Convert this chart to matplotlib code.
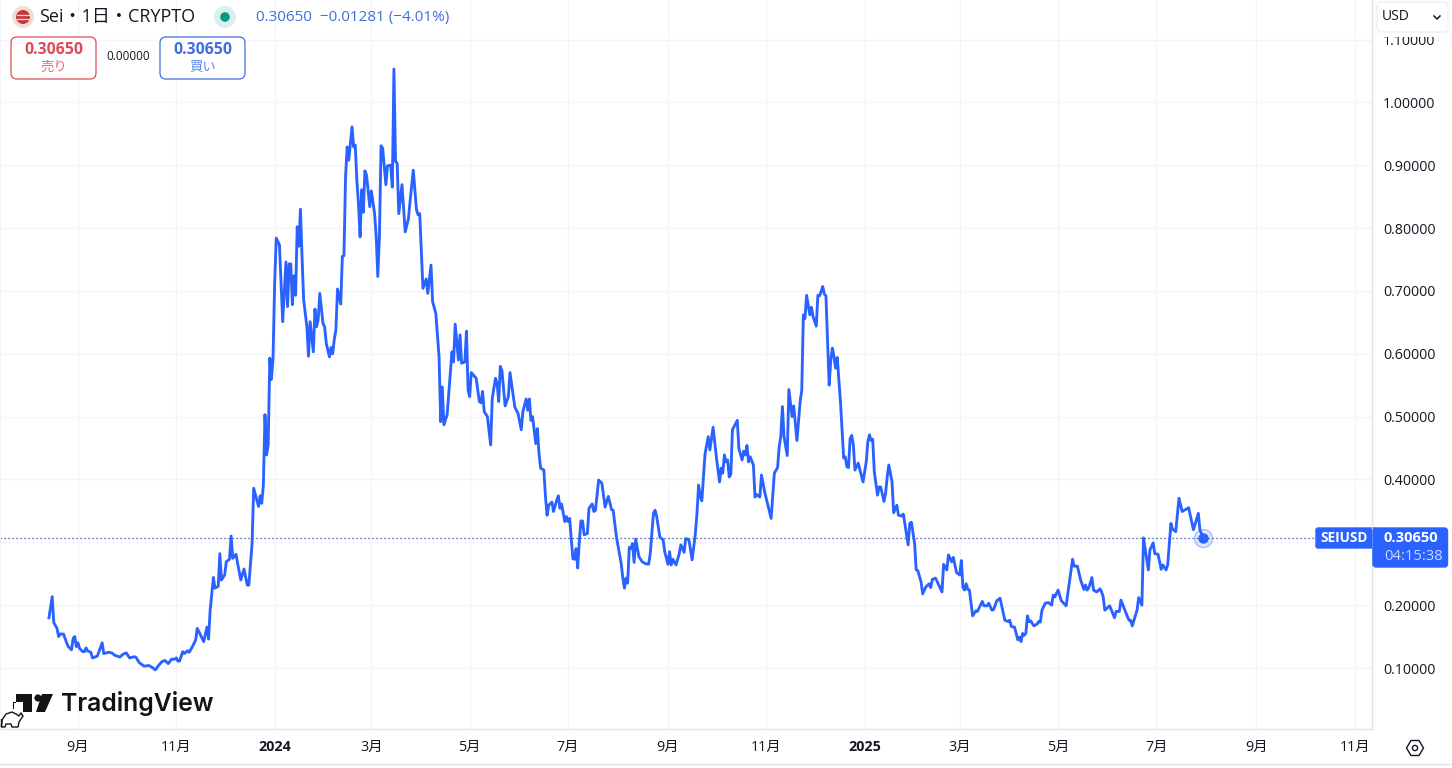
import numpy as np
import matplotlib
matplotlib.use("Agg")
import matplotlib.pyplot as plt
from matplotlib.patches import FancyBboxPatch, Circle, Polygon, Rectangle

plt.rcParams['font.family'] = ['Open Sans', 'Noto Sans CJK JP', 'DejaVu Sans']

start_date = np.datetime64('2023-09-01')
days = [-18,-16,-15,-13,-12,-11,-9,-7,-6,-4,-3,-2,-1,0,1,3,4,5,6,8,9,12,15,16,19,21,23,26,28,30,32,35,36,38,41,44,46,48,50,52,54,56,58,60,61,62,63,65,66,68,69,71,73,74,76,78,80,81,82,84,85,87,88,89,91,92,94,95,96,98,99,101,103,105,106,
        108,109,112,113,114,115,116,117,118,119,120,121,
        122,123,125,127,129,130,131,132,133,134,135,136,137,138,139,140,142,143,144,146,147,148,149,150,152,153,154,156,157,158,159,160,161,163,164,165,166,167,168,169,170,171,172,173,174,175,176,177,178,179,181,182,184,185,186,187,188,189,191,192,194,195,196,197,198,199,201,203,205,206,208,210,211,212,214,216,217,219,220,222,224,
        225,226,227,229,231,232,233,234,236,237,238,240,241,242,243,244,247,249,250,251,252,254,256,257,259,260,261,262,263,265,267,268,271,273,275,276,278,279,280,281,282,284,285,286,287,289,290,291,292,294,295,297,298,299,300,302,303,304,305,307,308,309,310,311,312,313,314,316,317,319,320,321,323,325,327,329,331,332,334,337,338,339,340,341,342,343,344,345,346,348,350,352,354,355,357,358,359,361,363,364,366,367,368,369,371,373,374,376,377,379,380,
        381,383,384,385,386,387,389,391,392,394,396,398,399,400,401,402,403,404,405,406,409,410,412,413,414,415,416,417,419,420,421,423,424,426,430,432,434,435,436,437,438,440,441,443,444,446,448,449,450,451,452,454,455,456,458,459,460,461,462,463,464,466,467,468,469,470,471,473,475,476,477,478,479,480,481,482,484,487,489,490,491,492,493,494,496,497,498,500,501,502,503,505,506,508,509,511,512,515,516,517,519,520,521,523,
        524,526,528,529,530,532,534,536,537,539,540,542,543,545,547,548,549,550,551,552,553,555,557,558,561,562,564,565,567,568,570,572,575,577,578,579,581,583,584,585,586,587,588,589,590,591,593,595,596,597,598,600,602,604,605,606,608,610,613,617,618,620,622,624,625,626,627,629,630,632,634,635,636,637,640,643,644,646,647,651,652,653,654,657,658,660,661,664,665,667,668,670,672,673,675,676,678,679,681,683,685,689,692,695,696,698]
prices = [.180,.2135,.172,.163,.150,.154,.154,.140,.134,.129,.147,.150,.134,.140,.131,.126,.126,.132,.127,.125,.116,.119,.140,.123,.125,.124,.120,.1175,.122,.124,.116,.118,.117,.1085,.103,.104,.101,.097,.104,.110,.112,.107,.114,.114,.116,.111,.111,.126,.123,.1275,.125,.134,.1445,.163,.1525,.142,.165,.146,.192,.244,.227,.230,.282,.240,.248,.269,.273,.310,.2745,.281,.267,.240,.2575,.232,.232,
          .298,.386,.357,.374,.362,.391,.503,.439,.455,.593,.559,.593,
          .712,.784,.773,.651,.746,.675,.743,.743,.678,.724,.693,.802,.771,.830,.754,.686,.643,.596,.651,.603,.671,.643,.654,.696,.648,.643,.617,.595,.610,.600,.623,.638,.703,.679,.755,.756,.882,.929,.908,.935,.961,.929,.932,.876,.839,.786,.861,.825,.891,.884,.834,.859,.823,.786,.723,.786,.931,.927,.869,.899,.900,.865,1.053,.906,.903,.823,.869,.794,.815,.842,.892,.829,.821,.823,.704,.719,.696,.741,.683,.664,.595,
          .492,.547,.487,.503,.571,.603,.587,.647,.590,.630,.585,.587,.636,.542,.532,.570,.561,.524,.522,.540,.508,.500,.455,.529,.561,.553,.524,.580,.573,.517,.532,.570,.515,.505,.479,.508,.528,.510,.528,.494,.500,.457,.481,.441,.418,.415,.373,.343,.359,.364,.349,.367,.374,.354,.361,.333,.341,.333,.338,.274,.273,.290,.259,.301,.334,.334,.312,.314,.354,.361,.349,.351,.399,.394,.356,.373,.352,.351,.309,.266,.243,.227,.243,.235,.292,.290,.298,.268,.305,.277,.269,.266,.265,.282,.346,.351,.341,.308,.304,.285,.265,.285,.264,.273,.264,.282,.296,.284,.306,.304,.288,
          .272,.314,.346,.391,.373,.366,.441,.468,.447,.483,.436,.396,.418,.410,.439,.428,.431,.404,.408,.479,.494,.449,.431,.445,.439,.454,.428,.436,.423,.372,.376,.372,.407,.380,.338,.410,.419,.452,.468,.516,.468,.438,.543,.500,.517,.462,.524,.542,.662,.656,.693,.662,.674,.659,.644,.693,.692,.699,.707,.695,.692,.550,.590,.609,.595,.577,.594,.524,.434,.436,.420,.419,.465,.470,.455,.415,.426,.396,.428,.460,.471,.462,.464,.412,.375,.388,.388,.365,.378,.404,.423,.396,.347,.359,.343,.342,.345,.296,.330,.332,.298,.256,.255,.237,
          .218,.229,.234,.228,.241,.243,.232,.221,.265,.256,.280,.269,.276,.252,.248,.271,.228,.224,.234,.225,.224,.183,.191,.190,.206,.199,.199,.203,.192,.193,.207,.211,.176,.174,.176,.166,.165,.145,.149,.142,.155,.152,.155,.183,.174,.175,.167,.170,.174,.173,.192,.203,.204,.200,.216,.213,.224,.207,.199,.273,.262,.262,.240,.225,.232,.224,.227,.244,.224,.221,.226,.221,.213,.192,.199,.180,.190,.190,.208,.182,.176,.176,.167,.192,.212,.200,.307,.256,.288,.299,.282,.281,.257,.264,.256,.264,.330,.321,.317,.370,.349,.355,.320,.346,.320,.3065]
y_ticks = [0.1,0.2,0.3,0.4,0.5,0.6,0.7,0.8,0.9,1.0,1.1]
month_ticks = ['2023-09-01','2023-11-01','2024-01-01','2024-03-01','2024-05-01','2024-07-01','2024-09-01','2024-11-01','2025-01-01','2025-03-01','2025-05-01','2025-07-01','2025-09-01','2025-11-01']
month_labels = ['9月','11月','2024','3月','5月','7月','9月','11月','2025','3月','5月','7月','9月','11月']
last_price = 0.3065

dates = start_date + np.array(days).astype('timedelta64[D]')
BLUE = '#2962ff'
GRID = '#f2f4f8'
AXIS = '#e0e3eb'
INK = '#131722'
W, H = 1452, 768
fig = plt.figure(figsize=(W/100, H/100), dpi=100, facecolor='white')
ax = fig.add_axes([0, (H-729)/H, 1372/W, 729/H])
ax.plot(dates, prices, color=BLUE, lw=2.05, solid_joinstyle='round', zorder=3)
px_day = 1.612
x0 = start_date - np.timedelta64(int(round(78/px_day*24)), 'h')
x1 = start_date + np.timedelta64(int(round((1372-78)/px_day*24)), 'h')
ax.set_xlim(x0, x1)
ax.set_ylim(0.1-61/628.5, 0.1+668/628.5)
ax.set_yticks(y_ticks)
# the 0.30000 label sits behind the last-price tag in the reference
ax.set_yticklabels(['' if abs(v-0.3) < 1e-9 else f'{v:.5f}' for v in y_ticks])
ax.yaxis.tick_right()
ax.set_xticks(np.array(month_ticks, dtype='datetime64[D]'))
ax.set_xticklabels(month_labels)
for lab, s in zip(ax.get_xticklabels(), month_labels):
    if s.isdigit():
        lab.set_fontweight('bold')
ax.tick_params(axis='both', length=0, labelsize=10.3, labelcolor=INK)
ax.tick_params(axis='y', pad=8)
ax.tick_params(axis='x', pad=8)
ax.grid(True, color=GRID, lw=0.9)
ax.set_axisbelow(True)
ax.spines['top'].set_visible(False)
ax.spines['left'].set_color(GRID)
for s in ['right','bottom']:
    ax.spines[s].set_color(AXIS)
    ax.spines[s].set_linewidth(1.0)
# last price line and marker
ax.plot([x0, x1], [last_price, last_price], color='#2a3f8f', lw=0.9, dashes=(1, 2.2), zorder=2)
ax.plot(dates[-1:], [last_price], 'o', ms=13, mfc=BLUE+'26', mec=BLUE+'70', mew=0.8, zorder=4)
ax.plot(dates[-1:], [last_price], 'o', ms=6.5, color=BLUE, zorder=5)

# pixel-space overlay
ov = fig.add_axes([0,0,1,1], zorder=10)
ov.set_xlim(0, W); ov.set_ylim(H, 0); ov.axis('off'); ov.patch.set_alpha(0)
def box(x0,y0,x1,y1,r,fc,ec,lw=1.0,z=5):
    ov.add_patch(FancyBboxPatch((x0+r,y0+r),x1-x0-2*r,y1-y0-2*r,boxstyle=f'round,pad={r},rounding_size={r}',fc=fc,ec=ec,lw=lw,zorder=z))
def txt(x,y,s,size,color=INK,ha='left',weight='normal',z=6,**k):
    ov.text(x,y,s,fontsize=size,color=color,ha=ha,va='center',fontweight=weight,zorder=z,**k)

ov.plot([0,W],[764,764],color=AXIS,lw=1.0)
# header
ov.add_patch(Circle((23,17),11,fc='#eedfd0',ec='none'))
ov.add_patch(Circle((23,17),7,fc='#c9363e',ec='none'))
ov.plot([17,29],[15,15],color='#eedfd0',lw=0.9)
ov.plot([17,29],[19,19],color='#eedfd0',lw=0.9)
txt(39,17,'Sei・1日・CRYPTO',13,color='#131722')
ov.add_patch(Circle((225,17),11,fc='#daf0ec',ec='none'))
ov.add_patch(Circle((225,17),4.8,fc='#089981',ec='none'))
txt(256,17,'0.30650  −0.01281 (−4.01%)',11,color='#3f6fdc')
RED='#e04a55'; BL2='#3f6fdc'
box(11,37,96,79,6,'white',RED,lw=0.9)
txt(53.5,50,'0.30650',11.4,color=RED,ha='center',weight='bold')
txt(53.5,67,'売り',9.6,color='#ea6a72',ha='center')
txt(128,57,'0.00000',8.4,ha='center')
box(160,37,245,79,6,'white',BL2,lw=0.9)
txt(202.5,50,'0.30650',11.4,color=BL2,ha='center',weight='bold')
txt(202.5,67,'買い',9.6,color='#5a86e8',ha='center')
# USD button, with the strip that clips the top of the 1.10000 label
ov.add_patch(Rectangle((1374,0),78,36.5,fc='white',ec='none',zorder=4.5))
box(1377,2,1448,32,5,'white','#edeff4',z=5)
txt(1382,17,'USD',10)
ov.plot([1434,1437,1440],[16,19,16],color=INK,lw=1.1,zorder=6)
# price labels
box(1316,528,1376,548,2,BLUE,BLUE,z=5)
ov.add_patch(Rectangle((1372,520),1.2,55,fc=AXIS,ec='none',zorder=5.5))
box(1373,528,1447.5,567,3,BLUE,BLUE,z=6)
txt(1344,538,'SEIUSD',9.8,color='white',ha='center',weight='bold',z=7)
txt(1384,538,'0.30650',10.6,color='white',weight='bold',z=7)
txt(1384,556,'04:15:38',10.6,color='#c9d6ff',z=7)
# settings hexagon
ov.add_patch(Polygon([(1406.5,748),(1411,740.5),(1419,740.5),(1423.5,748),(1419,755.5),(1411,755.5)],closed=True,fc='none',ec=INK,lw=1.0))
ov.add_patch(Circle((1415,748),2.6,fc='none',ec=INK,lw=1.0))
# TradingView logo
LOGO='#131313'
ov.add_patch(Polygon([(16,694),(32,694),(32,712),(23,712),(23,702),(16,702)],closed=True,fc=LOGO,ec='none',zorder=6))
ov.add_patch(Circle((38,698),3.6,fc=LOGO,ec='none',zorder=6))
ov.add_patch(Polygon([(42,694),(53,694),(45,712),(36,712)],closed=True,fc=LOGO,ec='none',zorder=6))
txt(61.5,703.5,'TradingView',17.8,color=LOGO,weight='semibold',family=['Inter','Noto Sans'])
bull_x=[1.5,2,6,12,16,19,21,23,19,18,12,11,6,5,1.5,1.5]
bull_y=[726,720,714,712,714,716,713,716,722,727,727,724,724,727,727,720]
ov.plot(bull_x,bull_y,color=LOGO,lw=1.0,zorder=6)
ov.plot([12.5,12.5,15],[708,702,702],color=LOGO,lw=0.8,zorder=6)

fig.savefig('out.png', dpi=100, facecolor='white')
